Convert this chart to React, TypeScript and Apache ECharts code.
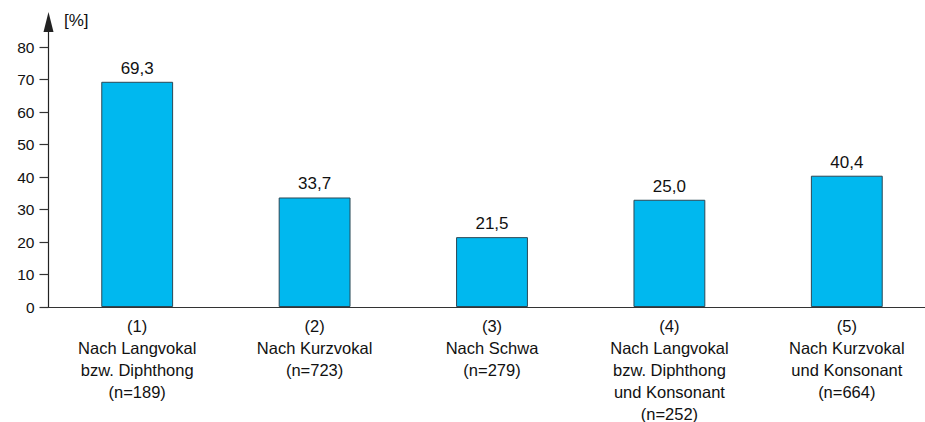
import React, { useEffect, useRef } from "react";
import * as echarts from "echarts";

const categories = [
  "(1)\nNach Langvokal\nbzw. Diphthong\n(n=189)",
  "(2)\nNach Kurzvokal\n(n=723)",
  "(3)\nNach Schwa\n(n=279)",
  "(4)\nNach Langvokal\nbzw. Diphthong\nund Konsonant\n(n=252)",
  "(5)\nNach Kurzvokal\nund Konsonant\n(n=664)",
];
// bar heights as drawn in the picture
const barHeights = [69.3, 33.7, 21.5, 33.0, 40.4];
// value labels as printed above the bars
const valueLabels = ["69,3", "33,7", "21,5", "25,0", "40,4"];
const yTicks = [0, 10, 20, 30, 40, 50, 60, 70, 80];
const unitLabel = "[%]";

const FONT = "'Liberation Sans', Arial, Helvetica, sans-serif";

export default function App() {
  const ref = useRef<HTMLDivElement>(null);
  useEffect(() => {
    if (!ref.current) return;
    const chart = echarts.init(ref.current, null, { renderer: "svg" });
    chart.setOption({
      animation: false,
      backgroundColor: "#ffffff",
      grid: {
        left: 48.5,
        top: 22,
        width: 887,
        bottom: 115,
        containLabel: false,
        outerBoundsMode: "none",
      },
      graphic: [
        {
          type: "text",
          left: 64,
          top: 12,
          style: { text: unitLabel, font: `17px ${FONT}`, fill: "#111" },
        },
      ],
      xAxis: {
        type: "category",
        data: categories,
        axisTick: { show: false },
        axisLine: { lineStyle: { color: "#333", width: 1.2 } },
        axisLabel: {
          interval: 0,
          color: "#111",
          fontFamily: FONT,
          fontSize: 16.5,
          lineHeight: 22,
          margin: 8,
          align: "center",
        },
      },
      yAxis: {
        type: "value",
        min: 0,
        max: 87.7,
        interval: 10,
        splitLine: { show: false },
        axisLine: {
          show: true,
          lineStyle: { color: "#222", width: 1.2 },
          symbol: ["none", "triangle"],
          symbolSize: [10, 20],
        },
        axisTick: {
          show: true,
          length: 9,
          inside: false,
          customValues: yTicks,
          lineStyle: { color: "#333", width: 1.2 },
        },
        axisLabel: {
          customValues: yTicks,
          color: "#111",
          fontFamily: FONT,
          fontSize: 15.5,
          margin: 14,
        },
      },
      series: [
        {
          type: "bar",
          data: barHeights,
          barWidth: "40.5%",
          itemStyle: { color: "#00b8ef", borderColor: "#2b4856", borderWidth: 1 },
          label: {
            show: true,
            position: "top",
            distance: 5,
            color: "#111",
            fontFamily: FONT,
            fontSize: 17,
            formatter: (p: any) => valueLabels[p.dataIndex],
          },
        },
      ],
    });
    return () => chart.dispose();
  }, []);
  return (
    <div
      ref={ref}
      style={{ position: "fixed", left: 0, top: 0, width: 925, height: 422, background: "#fff" }}
    />
  );
}
